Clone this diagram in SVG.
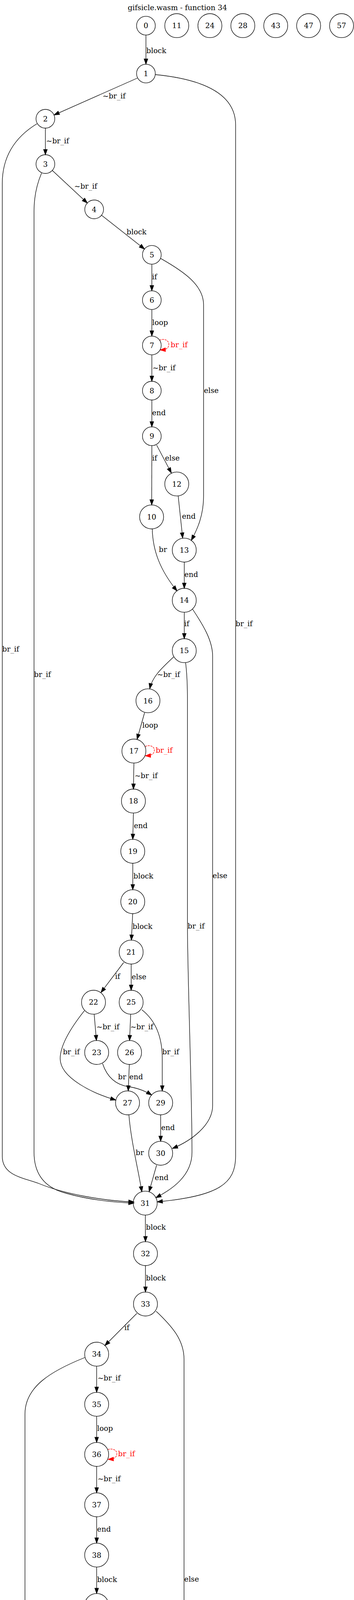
<svg xmlns="http://www.w3.org/2000/svg" width="906" height="6202" viewBox="0 0 906 6202">
<style>
.n{fill:none;stroke:#000;stroke-width:1.33}
text{font-family:"DejaVu Serif","Liberation Serif",serif;font-size:18.67px;fill:#000}
.nt{text-anchor:middle}
.e{fill:none;stroke:#000;stroke-width:1.33;marker-end:url(#a)}
.r{fill:none;stroke:#f00;stroke-width:1.33;stroke-dasharray:5,2;marker-end:url(#ar)}
text.rl{fill:#f00}
</style>
<defs>
<marker id="a" markerUnits="userSpaceOnUse" markerWidth="16" markerHeight="12" refX="13.3" refY="4.7" orient="auto" overflow="visible"><path d="M0,0 L13.3,4.7 L0,9.4 z" fill="#000" stroke="#000" stroke-width="1.33"/></marker>
<marker id="ar" markerUnits="userSpaceOnUse" markerWidth="16" markerHeight="12" refX="13.3" refY="4.7" orient="auto" overflow="visible"><path d="M0,0 L13.3,4.7 L0,9.4 z" fill="#f00" stroke="#f00" stroke-width="1.33"/></marker>
</defs>
<rect width="906" height="6202" fill="#fff"/>
<text class="nt" x="454" y="26">gifsicle.wasm - function 34</text>
<g id="edges">
<path class="e" d="M373.5,89.7 L373.5,164.3"/><text x="374.6" y="136">block</text>
<path class="e" d="M351.4,200 L138.5,294.3"/><text x="262.5" y="252">~br_if</text>
<path class="e" d="M397.8,191 C540,205 603,250 603,320 L603,2960 C603,3030 560,3062 402.5,3076.7"/><text x="603" y="1603.3">br_if</text>
<path class="e" d="M116.2,328 L116.2,396"/><text x="118" y="367">~br_if</text>
<path class="e" d="M94.7,316.7 C40,350 5.8,400 5.8,470 L5.8,2960 C5.8,3010 60,3015 100,3030 C160,3055 260,3074 342.7,3077"/><text x="5.8" y="1668.3">br_if</text>
<path class="e" d="M133.8,436.3 L223.4,519.7"/><text x="190" y="483.3">~br_if</text>
<path class="e" d="M106.3,443.3 C95,470 87.1,500 87.1,540 L87.1,2950 C87.1,3020 130,3045 170,3055 C230,3072 290,3078 342.7,3080"/><text x="87.1" y="1733.3">br_if</text>
<path class="e" d="M259.9,550.9 L369.7,637.4"/><text x="324" y="600">block</text>
<path class="e" d="M388.6,676.3 L388.6,744.3"/><text x="389" y="715">if</text>
<path class="e" d="M411.2,661.7 C470,695 521,730 521,780 L521,1270 C521,1320 505,1355 489.6,1383.3"/><text x="522" y="1005.7">else</text>
<path class="e" d="M388.6,792.3 L388.6,860.3"/><text x="389.5" y="831.7">loop</text>
<path class="r" d="M408,871 C418,866 432,870 432,881 C432,890 428,895 410,896"/><text class="rl" x="436.8" y="889.3">br_if</text>
<path class="e" d="M388.6,908.3 L388.6,976"/><text x="390.3" y="947.7">~br_if</text>
<path class="e" d="M388.6,1024 L388.6,1092.7"/><text x="389.2" y="1063.3">end</text>
<path class="e" d="M388.6,1140.7 L388.3,1292.6"/><text x="389.2" y="1179.3">if</text>
<path class="e" d="M400.8,1139.3 L438.5,1210.7"/><text x="422.2" y="1179.3">else</text>
<path class="e" d="M456,1269.5 L467.5,1377.3"/><text x="465.8" y="1328.3">end</text>
<path class="e" d="M389.7,1354.3 C391,1410 410,1460 453,1512.7"/><text x="406.6" y="1412.7">br</text>
<path class="e" d="M471.6,1439 L471.6,1506"/><text x="472" y="1477.3">end</text>
<path class="e" d="M471.6,1567.4 L471.6,1635"/><text x="471.6" y="1603.3">if</text>
<path class="e" d="M492.5,1559 C520,1600 544.2,1640 544.2,1680 L544.2,2830 C544.2,2880 490,2920 441.4,2940"/><text x="544.2" y="2248.3">else</text>
<path class="e" d="M444.3,1681.7 C420,1705 390,1730 383.3,1763"/><text x="402" y="1733.3">~br_if</text>
<path class="e" d="M475,1696.5 C478,1720 479.7,1750 479.7,1790 L479.7,2370 C480,2500 491.4,2800 491.4,2950 C491.4,3010 440,3045 399,3066"/><text x="480.3" y="2376.7">br_if</text>
<path class="e" d="M370,1824.5 L350.8,1892.7"/><text x="364.2" y="1863.3">loop</text>
<path class="r" d="M371.5,1911 C382,1906 395,1910 395,1920 C395,1929 390,1934 372,1935"/><text class="rl" x="398.4" y="1927.3">br_if</text>
<path class="e" d="M342.7,1953.4 L341.5,2020"/><text x="344.4" y="1991.7">~br_if</text>
<path class="e" d="M341.5,2081.4 L339.8,2148.6"/><text x="342.7" y="2120">end</text>
<path class="e" d="M339.8,2210 L339.8,2277.6"/><text x="341.5" y="2249.3">block</text>
<path class="e" d="M339.6,2339 L336.3,2406.6"/><text x="339.2" y="2377.7">block</text>
<path class="e" d="M316.5,2464 L258.5,2540.7"/><text x="294.5" y="2506">if</text>
<path class="e" d="M335.7,2468 L335.7,2535"/><text x="336.9" y="2506.7">else</text>
<path class="e" d="M241,2596.4 L246.8,2663.6"/><text x="246.8" y="2635">~br_if</text>
<path class="e" d="M216,2587.3 C190,2620 154,2670 154,2710 C154,2760 240,2800 296.2,2816"/><text x="160.9" y="2699.3">br_if</text>
<path class="e" d="M334.5,2596.4 L331.6,2663.6"/><text x="333.4" y="2635">~br_if</text>
<path class="e" d="M363,2585 C395,2610 415.3,2650 415.3,2710 L415.3,2792.6"/><text x="415.3" y="2699.3">br_if</text>
<path class="e" d="M262.5,2722.7 C275,2760 300,2778 330,2782 C355,2786 375,2795 388,2803.3"/><text x="302" y="2763.3">br</text>
<path class="e" d="M331,2725 L328.2,2792.6"/><text x="331" y="2763.3">end</text>
<path class="e" d="M411.2,2854 L411.2,2921.6"/><text x="412.4" y="2892.7">end</text>
<path class="e" d="M329.9,2854 C335,2920 355,3000 363,3051"/><text x="347.3" y="2956.7">br</text>
<path class="e" d="M400.8,2982.7 L381.6,3050.7"/><text x="396.1" y="3021">end</text>
<path class="e" d="M372,3110.7 L372.3,3178.6"/><text x="373.5" y="3148.3">block</text>
<path class="e" d="M372.3,3240 L372.3,3307.6"/><text x="373.5" y="3277.7">block</text>
<path class="e" d="M350.2,3362.3 L268.5,3444.5"/><text x="318.3" y="3405">if</text>
<path class="e" d="M399.6,3356.7 C440,3395 471,3430 471,3480 L471,4620 C471,4670 445,4705 419.3,4730.7"/><text x="471.6" y="4049.3">else</text>
<path class="e" d="M247.4,3497.4 L247.4,3564.3"/><text x="249.7" y="3534.3">~br_if</text>
<path class="e" d="M217.8,3475 C130,3510 63.9,3550 63.9,3620 L63.9,4890 C63.9,4930 68,4955 75.5,4980"/><text x="63.9" y="4242.7">br_if</text>
<path class="e" d="M247.4,3625.7 L247.4,3692.6"/><text x="248.6" y="3663.3">loop</text>
<path class="r" d="M276,3711 C286,3707 299,3711 299,3721 C299,3730 294,3735 277,3736"/><text class="rl" x="302" y="3728.3">br_if</text>
<path class="e" d="M247.4,3754 L247.4,3821.6"/><text x="249.7" y="3791.7">~br_if</text>
<path class="e" d="M247.4,3883 L247.4,3950.3"/><text x="248.6" y="3921">end</text>
<path class="e" d="M247.4,4011.7 L247.4,4079.3"/><text x="248.6" y="4050">block</text>
<path class="e" d="M247.4,4140.7 L247.4,4207.6"/><text x="248.6" y="4178.3">block</text>
<path class="e" d="M234,4268.3 C228,4290 220,4315 216,4337"/><text x="225.4" y="4306.7">else</text>
<path class="e" d="M260.2,4267.3 L290.4,4338.3"/><text x="281.1" y="4306.7">if</text>
<path class="e" d="M183.5,4380 C150,4405 127,4435 124.9,4465"/><text x="133.6" y="4436">~br_if</text>
<path class="e" d="M206.2,4397.7 C202,4450 200,4520 250,4565 C290,4600 330,4610 367,4616.7"/><text x="225.4" y="4500">br_if</text>
<path class="e" d="M299.1,4397.3 C285,4480 268,4550 261.4,4594"/><text x="286.3" y="4500">br_if</text>
<path class="e" d="M323,4393.3 L383.3,4470"/><text x="363" y="4436">~br_if</text>
<path class="e" d="M137.6,4526.7 C145,4570 180,4600 226.5,4615"/><text x="156.8" y="4564.3">end</text>
<path class="e" d="M400.8,4526.4 L398.4,4593.6"/><text x="400.8" y="4564.3">br</text>
<path class="e" d="M396.7,4655 L396.7,4722.6"/><text x="397.3" y="4692.7">end</text>
<path class="e" d="M255.6,4655 L255.6,4851"/><text x="256.1" y="4756.7">br</text>
<path class="e" d="M371.7,4776 L278.8,4861"/><text x="335.1" y="4821.7">end</text>
<path class="e" d="M230,4902.7 L109.2,4991.7"/><text x="183" y="4950">end</text>
<path class="e" d="M85.4,5041.4 L85.4,5108.6"/><text x="86.5" y="5079.3">block</text>
<path class="e" d="M63.9,5163.3 C50,5185 43,5210 42,5237"/><text x="47.6" y="5207">~br_if</text>
<path class="e" d="M98.7,5167.3 C108,5200 115,5240 115,5270 C115,5310 110,5340 103.4,5366"/><text x="116.2" y="5272.7">br_if</text>
<path class="e" d="M56.3,5298 L79.6,5366.7"/><text x="71.4" y="5336.7">end</text>
<path class="e" d="M90.6,5427.4 L90.6,5494.3"/><text x="91.8" y="5465">block</text>
<path class="e" d="M80.7,5555.7 L58.1,5624"/><text x="72.6" y="5594">if</text>
<path class="e" d="M101.6,5555.7 L123.1,5624"/><text x="116.2" y="5594">else</text>
<path class="e" d="M58.7,5684 L80.2,5753.3"/><text x="72.6" y="5722.7">br</text>
<path class="e" d="M123.7,5684 L102.2,5753.3"/><text x="116.2" y="5722.7">end</text>
<path class="e" d="M81.3,5813.3 L61.6,5881.7"/><text x="75.5" y="5850">if</text>
<path class="e" d="M99.9,5813.3 C110,5850 116.2,5880 116.2,5915 C116.2,5955 112,5985 106.3,6010"/><text x="117.9" y="5915">else</text>
<path class="e" d="M62.1,5941.7 L82.5,6010"/><text x="75.5" y="5980">end</text>
<path class="e" d="M91.8,6070.7 L91.8,6138.3"/><text x="92.9" y="6108.3">end</text>
</g>
<g id="node0"><circle class="n" cx="373.5" cy="65.7" r="24"/><text class="nt" x="373.5" y="72.2">0</text></g>
<g id="node11"><circle class="n" cx="452.4" cy="65.7" r="30.7"/><text class="nt" x="452.4" y="72.2">11</text></g>
<g id="node24"><circle class="n" cx="537.2" cy="65.7" r="30.7"/><text class="nt" x="537.2" y="72.2">24</text></g>
<g id="node28"><circle class="n" cx="621.5" cy="65.7" r="30.7"/><text class="nt" x="621.5" y="72.2">28</text></g>
<g id="node43"><circle class="n" cx="705.7" cy="65.7" r="30.7"/><text class="nt" x="705.7" y="72.2">43</text></g>
<g id="node47"><circle class="n" cx="789.9" cy="65.7" r="30.7"/><text class="nt" x="789.9" y="72.2">47</text></g>
<g id="node57"><circle class="n" cx="874.1" cy="65.7" r="30.7"/><text class="nt" x="874.1" y="72.2">57</text></g>
<g id="node1"><circle class="n" cx="373.5" cy="188.3" r="24"/><text class="nt" x="373.5" y="194.8">1</text></g>
<g id="node2"><circle class="n" cx="116.2" cy="304" r="24"/><text class="nt" x="116.2" y="310.5">2</text></g>
<g id="node3"><circle class="n" cx="116.2" cy="420" r="24"/><text class="nt" x="116.2" y="426.5">3</text></g>
<g id="node4"><circle class="n" cx="241" cy="536" r="24"/><text class="nt" x="241" y="542.5">4</text></g>
<g id="node5"><circle class="n" cx="388.6" cy="652.3" r="24"/><text class="nt" x="388.6" y="658.8">5</text></g>
<g id="node6"><circle class="n" cx="388.6" cy="768.3" r="24"/><text class="nt" x="388.6" y="774.8">6</text></g>
<g id="node7"><circle class="n" cx="388.6" cy="884.3" r="24"/><text class="nt" x="388.6" y="890.8">7</text></g>
<g id="node8"><circle class="n" cx="388.6" cy="1000" r="24"/><text class="nt" x="388.6" y="1006.5">8</text></g>
<g id="node9"><circle class="n" cx="388.6" cy="1116.7" r="24"/><text class="nt" x="388.6" y="1123.2">9</text></g>
<g id="node12"><circle class="n" cx="452.4" cy="1239" r="30.7"/><text class="nt" x="452.4" y="1245.5">12</text></g>
<g id="node10"><circle class="n" cx="388" cy="1323.3" r="30.7"/><text class="nt" x="388" y="1329.8">10</text></g>
<g id="node13"><circle class="n" cx="471.6" cy="1408.3" r="30.7"/><text class="nt" x="471.6" y="1414.8">13</text></g>
<g id="node14"><circle class="n" cx="471.6" cy="1536.7" r="30.7"/><text class="nt" x="471.6" y="1543.2">14</text></g>
<g id="node15"><circle class="n" cx="471.6" cy="1665.7" r="30.7"/><text class="nt" x="471.6" y="1672.2">15</text></g>
<g id="node16"><circle class="n" cx="378.7" cy="1794" r="30.7"/><text class="nt" x="378.7" y="1800.5">16</text></g>
<g id="node17"><circle class="n" cx="342.7" cy="1922.7" r="30.7"/><text class="nt" x="342.7" y="1929.2">17</text></g>
<g id="node18"><circle class="n" cx="341.5" cy="2050.7" r="30.7"/><text class="nt" x="341.5" y="2057.2">18</text></g>
<g id="node19"><circle class="n" cx="339.8" cy="2179.3" r="30.7"/><text class="nt" x="339.8" y="2185.8">19</text></g>
<g id="node20"><circle class="n" cx="339.8" cy="2308.3" r="30.7"/><text class="nt" x="339.8" y="2314.8">20</text></g>
<g id="node21"><circle class="n" cx="335.7" cy="2437.3" r="30.7"/><text class="nt" x="335.7" y="2443.8">21</text></g>
<g id="node22"><circle class="n" cx="239.3" cy="2565.7" r="30.7"/><text class="nt" x="239.3" y="2572.2">22</text></g>
<g id="node25"><circle class="n" cx="335.7" cy="2565.7" r="30.7"/><text class="nt" x="335.7" y="2572.2">25</text></g>
<g id="node23"><circle class="n" cx="247.4" cy="2694.3" r="30.7"/><text class="nt" x="247.4" y="2700.8">23</text></g>
<g id="node26"><circle class="n" cx="331.6" cy="2694.3" r="30.7"/><text class="nt" x="331.6" y="2700.8">26</text></g>
<g id="node27"><circle class="n" cx="326.4" cy="2823.3" r="30.7"/><text class="nt" x="326.4" y="2829.8">27</text></g>
<g id="node29"><circle class="n" cx="411.2" cy="2823.3" r="30.7"/><text class="nt" x="411.2" y="2829.8">29</text></g>
<g id="node30"><circle class="n" cx="411.2" cy="2952.3" r="30.7"/><text class="nt" x="411.2" y="2958.8">30</text></g>
<g id="node31"><circle class="n" cx="371.7" cy="3080" r="30.7"/><text class="nt" x="371.7" y="3086.5">31</text></g>
<g id="node32"><circle class="n" cx="372.3" cy="3209.3" r="30.7"/><text class="nt" x="372.3" y="3215.8">32</text></g>
<g id="node33"><circle class="n" cx="372.3" cy="3338.3" r="30.7"/><text class="nt" x="372.3" y="3344.8">33</text></g>
<g id="node34"><circle class="n" cx="247.4" cy="3466.7" r="30.7"/><text class="nt" x="247.4" y="3473.2">34</text></g>
<g id="node35"><circle class="n" cx="247.4" cy="3595" r="30.7"/><text class="nt" x="247.4" y="3601.5">35</text></g>
<g id="node36"><circle class="n" cx="247.4" cy="3723.3" r="30.7"/><text class="nt" x="247.4" y="3729.8">36</text></g>
<g id="node37"><circle class="n" cx="247.4" cy="3852.3" r="30.7"/><text class="nt" x="247.4" y="3858.8">37</text></g>
<g id="node38"><circle class="n" cx="247.4" cy="3981" r="30.7"/><text class="nt" x="247.4" y="3987.5">38</text></g>
<g id="node39"><circle class="n" cx="247.4" cy="4110" r="30.7"/><text class="nt" x="247.4" y="4116.5">39</text></g>
<g id="node40"><circle class="n" cx="247.4" cy="4238.3" r="30.7"/><text class="nt" x="247.4" y="4244.8">40</text></g>
<g id="node44"><circle class="n" cx="210.8" cy="4367.3" r="30.7"/><text class="nt" x="210.8" y="4373.8">44</text></g>
<g id="node41"><circle class="n" cx="303.8" cy="4367.3" r="30.7"/><text class="nt" x="303.8" y="4373.8">41</text></g>
<g id="node45"><circle class="n" cx="132.4" cy="4495.7" r="30.7"/><text class="nt" x="132.4" y="4502.2">45</text></g>
<g id="node42"><circle class="n" cx="402.5" cy="4495.7" r="30.7"/><text class="nt" x="402.5" y="4502.2">42</text></g>
<g id="node46"><circle class="n" cx="255.6" cy="4624.3" r="30.7"/><text class="nt" x="255.6" y="4630.8">46</text></g>
<g id="node48"><circle class="n" cx="396.7" cy="4624.3" r="30.7"/><text class="nt" x="396.7" y="4630.8">48</text></g>
<g id="node49"><circle class="n" cx="396.7" cy="4753.3" r="30.7"/><text class="nt" x="396.7" y="4759.8">49</text></g>
<g id="node50"><circle class="n" cx="255.6" cy="4881.7" r="30.7"/><text class="nt" x="255.6" y="4888.2">50</text></g>
<g id="node51"><circle class="n" cx="85.4" cy="5010.7" r="30.7"/><text class="nt" x="85.4" y="5017.2">51</text></g>
<g id="node52"><circle class="n" cx="85.4" cy="5139.3" r="30.7"/><text class="nt" x="85.4" y="5145.8">52</text></g>
<g id="node53"><circle class="n" cx="46.5" cy="5267.7" r="30.7"/><text class="nt" x="46.5" y="5274.2">53</text></g>
<g id="node54"><circle class="n" cx="90.6" cy="5396.7" r="30.7"/><text class="nt" x="90.6" y="5403.2">54</text></g>
<g id="node55"><circle class="n" cx="90.6" cy="5525" r="30.7"/><text class="nt" x="90.6" y="5531.5">55</text></g>
<g id="node56"><circle class="n" cx="49.4" cy="5653.3" r="30.7"/><text class="nt" x="49.4" y="5659.8">56</text></g>
<g id="node58"><circle class="n" cx="133.6" cy="5653.3" r="30.7"/><text class="nt" x="133.6" y="5659.8">58</text></g>
<g id="node59"><circle class="n" cx="90.6" cy="5782.7" r="30.7"/><text class="nt" x="90.6" y="5789.2">59</text></g>
<g id="node60"><circle class="n" cx="52.3" cy="5911" r="30.7"/><text class="nt" x="52.3" y="5917.5">60</text></g>
<g id="node61"><circle class="n" cx="91.8" cy="6040" r="30.7"/><text class="nt" x="91.8" y="6046.5">61</text></g>
<g id="nodeE"><circle class="n" cx="91.8" cy="6167.7" r="24.2"/><circle class="n" cx="91.8" cy="6167.7" r="29.5"/><text class="nt" x="91.8" y="6174.2">E</text></g>
</svg>
